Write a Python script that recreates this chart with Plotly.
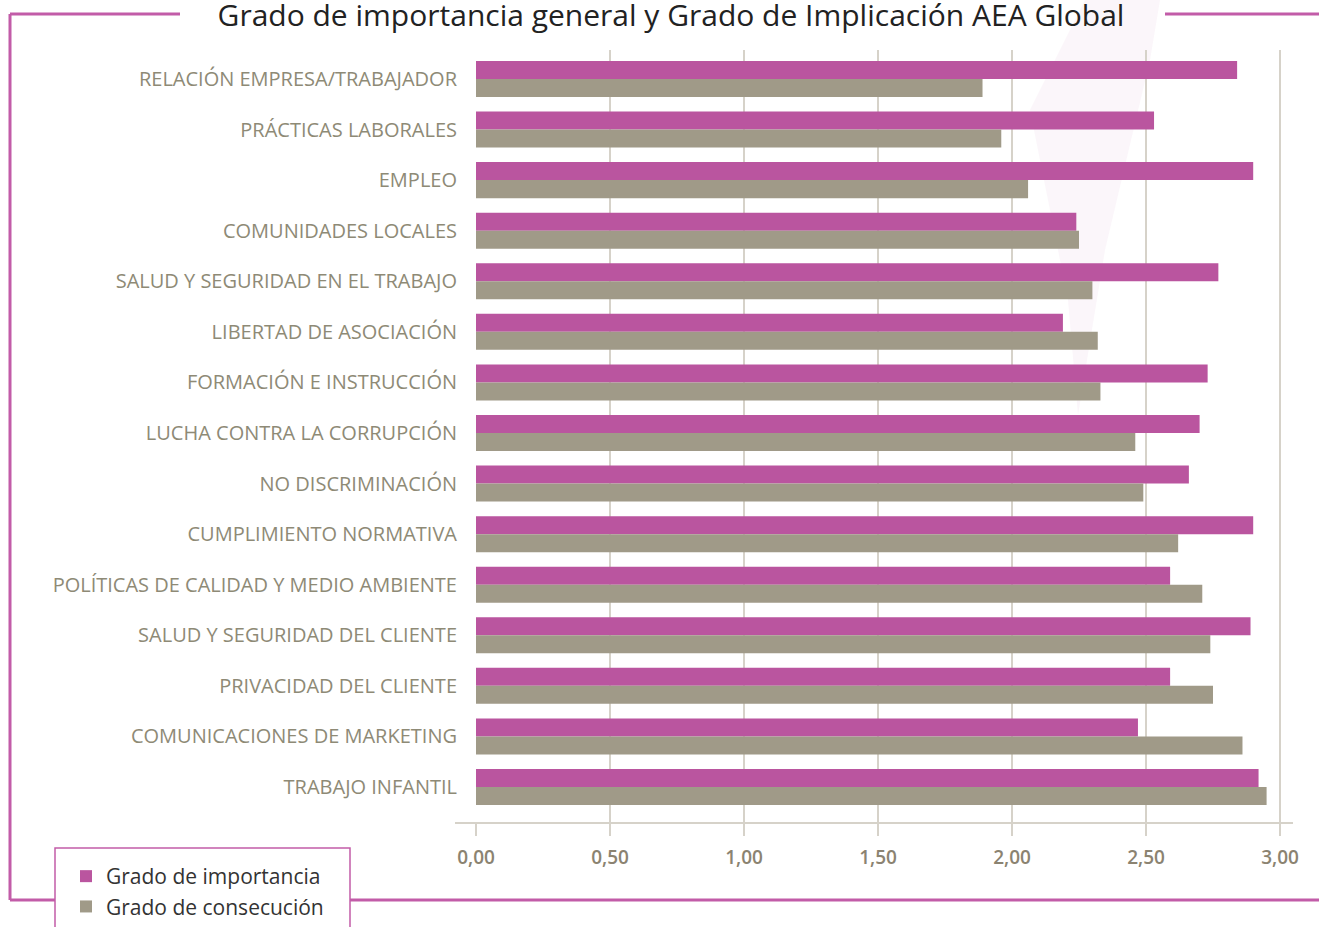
import plotly.graph_objects as go

categories = [
    "RELACIÓN EMPRESA/TRABAJADOR",
    "PRÁCTICAS LABORALES",
    "EMPLEO",
    "COMUNIDADES LOCALES",
    "SALUD Y SEGURIDAD EN EL TRABAJO",
    "LIBERTAD DE ASOCIACIÓN",
    "FORMACIÓN E INSTRUCCIÓN",
    "LUCHA CONTRA LA CORRUPCIÓN",
    "NO DISCRIMINACIÓN",
    "CUMPLIMIENTO NORMATIVA",
    "POLÍTICAS DE CALIDAD Y MEDIO AMBIENTE",
    "SALUD Y SEGURIDAD DEL CLIENTE",
    "PRIVACIDAD DEL CLIENTE",
    "COMUNICACIONES DE MARKETING",
    "TRABAJO INFANTIL",
]
importancia = [2.84, 2.53, 2.90, 2.24, 2.77, 2.19, 2.73, 2.70, 2.66, 2.90, 2.59, 2.89, 2.59, 2.47, 2.92]
consecucion = [1.89, 1.96, 2.06, 2.25, 2.30, 2.32, 2.33, 2.46, 2.49, 2.62, 2.71, 2.74, 2.75, 2.86, 2.95]
tick_vals = [0, 0.5, 1.0, 1.5, 2.0, 2.5, 3.0]

MAGENTA = "#ba559f"
GREY = "#a09a88"
GRID = "#d6d2c9"
FRAME = "#c25ca8"

W, H = 1319, 927
L, R, T, B = 476, 1293, 50, 823


def px(x):
    return (x - L) / (R - L)


def py(y):
    return (B - y) / (B - T)


fig = go.Figure()
fig.add_trace(go.Bar(y=categories, x=importancia, orientation="h", name="Grado de importancia",
                     marker=dict(color=MAGENTA, line=dict(width=0))))
fig.add_trace(go.Bar(y=categories, x=consecucion, orientation="h", name="Grado de consecución",
                     marker=dict(color=GREY, line=dict(width=0))))

shapes = []
# faint decorative swoosh
shapes.append(dict(type="path", xref="paper", yref="paper", layer="below",
                   path="M {a},{b} L {c},{d} L {e},{f} L {g},{h} L {i},{j} L {k},{l} L {m},{n} Z".format(
                       a=px(1085), b=py(0), c=px(1160), d=py(0), e=px(1150), f=py(60),
                       g=px(1105), h=py(250), i=px(1078), j=py(415), k=px(1068), l=py(300),
                       m=px(1030), n=py(110)),
                   fillcolor="rgba(238,215,232,0.22)", line=dict(width=0)))
# axis baseline
shapes.append(dict(type="line", xref="paper", yref="paper", x0=px(455), x1=1, y0=0, y1=0,
                   line=dict(color=GRID, width=2)))
frame_lines = [
    ((10, 14), (180, 14)),
    ((10, 14), (10, 900)),
    ((10, 900), (55, 900)),
    ((350, 900), (1319, 900)),
    ((1165, 14), (1319, 14)),
]
for (x0, y0), (x1, y1) in frame_lines:
    shapes.append(dict(type="line", xref="paper", yref="paper", x0=px(x0), y0=py(y0), x1=px(x1), y1=py(y1),
                       line=dict(color=FRAME, width=3)))
shapes.append(dict(type="rect", xref="paper", yref="paper", x0=px(55), x1=px(350), y0=py(848), y1=py(940),
                   line=dict(color=FRAME, width=1.5), fillcolor="rgba(0,0,0,0)"))

fig.update_layout(
    width=W, height=H,
    margin=dict(l=L, r=W - R, t=T, b=H - B, pad=0, autoexpand=False),
    paper_bgcolor="white", plot_bgcolor="rgba(0,0,0,0)",
    barmode="group", bargap=0.288, bargroupgap=0,
    separators=",.",
    font=dict(family="Open Sans", color="#333333"),
    title=dict(text="Grado de importancia general y Grado de Implicación AEA Global",
               x=671 / W, xref="container", xanchor="center",
               y=1 - 15 / H, yref="container", yanchor="middle",
               font=dict(family="Open Sans", size=30, color="#222222")),
    xaxis=dict(range=[0, (R - L) / 268.0], tickvals=tick_vals, tickformat=".2f",
               showgrid=True, gridcolor=GRID, gridwidth=2, zeroline=False, showline=False,
               ticks="outside", ticklen=12, tickwidth=2, tickcolor=GRID, automargin=False,
               ticklabelstandoff=5,
               tickfont=dict(family="Open Sans", size=19, color="#8b8371", weight=600),
               fixedrange=True),
    yaxis=dict(categoryorder="array", categoryarray=categories, range=[14.712, -0.573],
               showgrid=False, zeroline=False, showline=False, automargin=False,
               ticks="outside", ticklen=14, tickcolor="rgba(0,0,0,0)",
               tickfont=dict(family="Open Sans", size=20, color="#8e8a76")),
    legend=dict(xref="container", yref="container", x=66 / W, y=1 - 856 / H,
                xanchor="left", yanchor="top", bgcolor="rgba(0,0,0,0)", borderwidth=0,
                font=dict(family="Open Sans", size=21, color="#333333"), traceorder="normal",
                tracegroupgap=0),
    showlegend=True,
    shapes=shapes,
)

fig.write_html("out.html", config={"displayModeBar": False},
               post_script="document.body.style.margin='0';document.body.style.overflow='hidden';")
